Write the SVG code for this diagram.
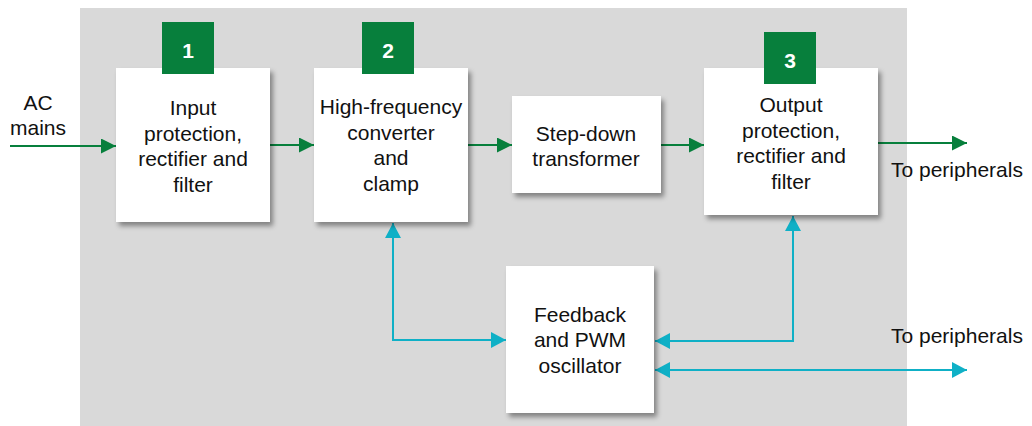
<svg xmlns="http://www.w3.org/2000/svg" width="1032" height="426" viewBox="0 0 1032 426">
<defs>
<style>
.box{fill:#fff;filter:url(#sh)}
.badge{fill:#077f3c}
.t{font-family:"Liberation Sans",Arial,sans-serif;font-size:21px;fill:#111;text-anchor:middle}
.lab{font-family:"Liberation Sans",Arial,sans-serif;font-size:21px;fill:#111}
.num{font-family:"Liberation Sans",Arial,sans-serif;font-size:21px;font-weight:bold;fill:#fff;text-anchor:middle}
.g{stroke:#077f3c;stroke-width:2;fill:none;marker-end:url(#ag)}
.c{stroke:#0fb0c6;stroke-width:2;fill:none;marker-end:url(#ac)}
.c2{stroke:#0fb0c6;stroke-width:2;fill:none;marker-start:url(#ac);marker-end:url(#ac)}
</style>
<filter id="sh" x="-10%" y="-10%" width="130%" height="130%">
<feDropShadow dx="3" dy="4" stdDeviation="2.5" flood-color="#000" flood-opacity="0.4"/>
</filter>
<marker id="ag" markerUnits="userSpaceOnUse" markerWidth="16" markerHeight="16" refX="15" refY="7.5" orient="auto-start-reverse">
<path d="M0,0 L15,7.5 L0,15 Z" fill="#077f3c"/>
</marker>
<marker id="ac" markerUnits="userSpaceOnUse" markerWidth="16" markerHeight="16" refX="15" refY="8" orient="auto-start-reverse">
<path d="M0,0 L15,8 L0,16 Z" fill="#0fb0c6"/>
</marker>
</defs>
<rect x="80" y="8" width="827" height="418" fill="#d9d9d9"/>
<g id="connectors">
<line class="g" x1="10" y1="146" x2="116" y2="146"/>
<line class="g" x1="270" y1="145" x2="314" y2="145"/>
<line class="g" x1="468" y1="145" x2="512" y2="145"/>
<line class="g" x1="661" y1="145" x2="704" y2="145"/>
<line class="g" x1="878" y1="143" x2="967" y2="143"/>
<polyline class="c2" points="393,223 393,340 506,340"/>
<polyline class="c2" points="793,216 793,341 655,341"/>
<line class="c2" x1="655" y1="370" x2="967" y2="370"/>
</g>
<g id="ac-mains">
<text class="t" x="38" y="110">AC</text>
<text class="t" x="38" y="135">mains</text>
</g>
<g id="node1">
<rect class="box" x="116" y="68" width="154" height="154"/>
<rect class="badge" x="162" y="22" width="52" height="52"/>
<text class="num" x="188" y="58">1</text>
<text class="t" x="193" y="115">Input</text>
<text class="t" x="193" y="141">protection,</text>
<text class="t" x="193" y="166">rectifier and</text>
<text class="t" x="193" y="192">filter</text>
</g>
<g id="node2">
<rect class="box" x="314" y="68" width="154" height="154"/>
<rect class="badge" x="362" y="22" width="52" height="52"/>
<text class="num" x="388" y="58">2</text>
<text class="t" x="391" y="114">High-frequency</text>
<text class="t" x="391" y="140">converter</text>
<text class="t" x="391" y="165">and</text>
<text class="t" x="391" y="191">clamp</text>
</g>
<g id="node-stepdown">
<rect class="box" x="512" y="96" width="149" height="97"/>
<text class="t" x="586" y="141">Step-down</text>
<text class="t" x="586" y="166">transformer</text>
</g>
<g id="node3">
<rect class="box" x="704" y="68" width="174" height="147"/>
<rect class="badge" x="764" y="32" width="52" height="52"/>
<text class="num" x="790" y="68">3</text>
<text class="t" x="791" y="112">Output</text>
<text class="t" x="791" y="138">protection,</text>
<text class="t" x="791" y="163">rectifier and</text>
<text class="t" x="791" y="189">filter</text>
</g>
<g id="node-feedback">
<rect class="box" x="506" y="266" width="148" height="147"/>
<text class="t" x="580" y="322">Feedback</text>
<text class="t" x="580" y="347">and PWM</text>
<text class="t" x="580" y="373">oscillator</text>
</g>
<g id="out-labels">
<text class="lab" x="891" y="177">To peripherals</text>
<text class="lab" x="891" y="343">To peripherals</text>
</g>
</svg>
